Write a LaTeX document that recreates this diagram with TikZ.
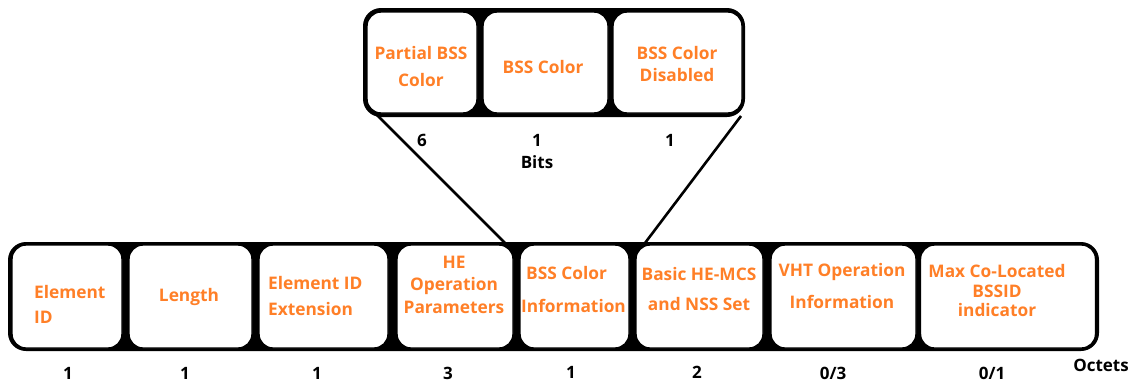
\documentclass[tikz,border=0pt]{standalone}
\usepackage{fontspec}
\setmainfont{Open Sans}
\definecolor{lbl}{RGB}{255,127,39}
\begin{document}
\begin{tikzpicture}[x=1pt,y=-1pt,
  frame/.style={fill=black, rounded corners=18pt, inner sep=0pt},
  cell/.style={draw=black, line width=1.4pt, fill=white, rounded corners=14pt, inner sep=0pt},
  lab/.style={text=lbl, font=\bfseries\fontsize{17.3}{23}\selectfont, align=center, inner sep=0pt},
  num/.style={text=black, font=\bfseries\fontsize{17}{20}\selectfont, inner sep=0pt},
  conn/.style={line width=2.6pt, black}]
\useasboundingbox (0,0) rectangle (1137,383);
% outer frames
\node[frame, minimum width=1091pt, minimum height=109pt] (B) at (553.5,296.5) {};
\node[frame, minimum width=382pt, minimum height=109pt] (T) at (554,62.5) {};
% bottom cells
\node[cell, minimum width=110pt, minimum height=103pt] (b1) at (67,296.5) {};
\node[cell, minimum width=123pt, minimum height=103pt] (b2) at (190.5,296.5) {};
\node[cell, minimum width=129pt, minimum height=103pt] (b3) at (323.5,296.5) {};
\node[cell, minimum width=116pt, minimum height=103pt] (b4) at (455,296.5) {};
\node[cell, minimum width=109pt, minimum height=103pt] (b5) at (574.5,296.5) {};
\node[cell, minimum width=127pt, minimum height=103pt] (b6) at (699.5,296.5) {};
\node[cell, minimum width=145pt, minimum height=103pt] (b7) at (843.5,296.5) {};
\node[cell, minimum width=175pt, minimum height=103pt] (b8) at (1008,296.5) {};
% top cells
\node[cell, minimum width=110pt, minimum height=101pt] (t1) at (422,62.5) {};
\node[cell, minimum width=125pt, minimum height=101pt] (t2) at (545.5,62.5) {};
\node[cell, minimum width=129pt, minimum height=101pt] (t3) at (677.5,62.5) {};
% connectors
\coordinate (l1) at (375,113);
\coordinate (l2) at (505,243);
\coordinate (r1) at (741,116);
\coordinate (r2) at (645,243);
\draw[conn] (l1) -- (l2);
\draw[conn] (r1) -- (r2);
% labels bottom
\node[lab, align=left, anchor=west] (e1) at (34,304.5) {Element\\[2pt]ID};
\node[lab] (e2) at (189,297) {Length};
\node[lab, align=left, anchor=west] (e3) at (268,296) {Element ID\\[3pt]Extension};
\node[lab, font=\bfseries\fontsize{17.3}{22.5}\selectfont] (e4) at (454,284.5) {HE\\Operation\\Parameters};
\node[lab, align=left, anchor=west] (e5) at (521,289.5) {\hspace{5pt}BSS Color\\[10pt]Information};
\node[lab] (e6) at (699,289) {Basic HE-MCS\\[7pt]and NSS Set};
\node[lab] (e7) at (842,286) {VHT Operation\\[9pt]Information};
\node[lab, font=\bfseries\fontsize{17.3}{19.5}\selectfont] (e8) at (997,291) {Max Co-Located\\BSSID\\indicator};
% labels top
\node[lab] (p1) at (421,66.5) {Partial BSS\\[4pt]Color};
\node[lab, font=\bfseries\fontsize{17.3}{22}\selectfont] (p2) at (543,67) {BSS Color};
\node[lab, font=\bfseries\fontsize{17.3}{22}\selectfont] (p3) at (677,64) {BSS Color\\Disabled};
% numbers
\node[num] (n1) at (68,373) {1};
\node[num] (n2) at (185,373) {1};
\node[num] (n3) at (317,373) {1};
\node[num] (n4) at (448,373) {3};
\node[num] (n5) at (571,372) {1};
\node[num] (n6) at (697,372) {2};
\node[num] (n7) at (833,373) {0/3};
\node[num] (n8) at (992,373) {0/1};
\node[num] (oc) at (1101,365) {Octets};
\node[num] (m1) at (422,140) {6};
\node[num] (m2) at (537,140) {1};
\node[num] (m3) at (670,140) {1};
\node[num] (bits) at (537,162) {Bits};
\end{tikzpicture}
\end{document}
